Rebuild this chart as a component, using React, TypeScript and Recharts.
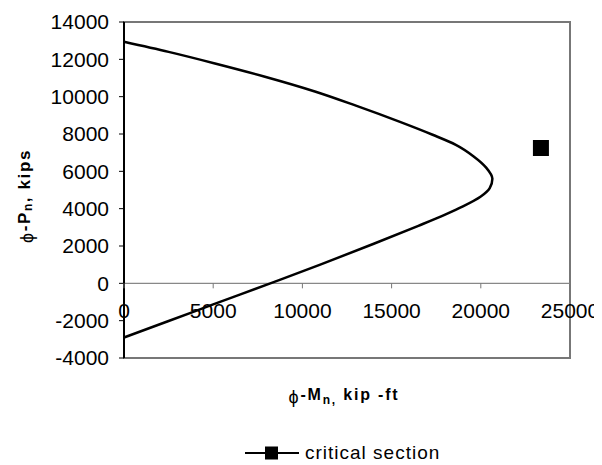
import {
  Legend,
  ReferenceArea,
  ReferenceLine,
  Scatter,
  ScatterChart,
  XAxis,
  YAxis,
} from "recharts";

// interaction diagram, phi-Mn (kip-ft) vs phi-Pn (kips), traced from top to bottom
const momentValues = [
  0, 2500, 5100, 7900, 10700, 13000, 15470, 17300, 18600, 19600, 20300, 20650, 20500,
  20000, 19000, 18000, 16500, 14000, 11000, 8200, 5000, 2500, 0,
];
const axialValues = [
  12940, 12400, 11780, 11070, 10280, 9520, 8650, 7960, 7420, 6800, 6200, 5600, 5100,
  4650, 4120, 3680, 3080, 2120, 1000, 0, -1130, -2020, -2900,
];

const criticalMoment = [23370];
const criticalAxial = [7250];

const xTicks = [0, 5000, 10000, 15000, 20000, 25000];
const yTicks = [-4000, -2000, 0, 2000, 4000, 6000, 8000, 10000, 12000, 14000];

const X_MIN = 0;
const X_MAX = 25000;
const Y_MIN = -4000;
const Y_MAX = 14000;

const CHART_W = 594;
const CHART_H = 457;
const MARGIN = { top: 14, right: 32, left: 0, bottom: 33 };
const X_AXIS_H = 50;
const LEGEND_H = 24;
const PLOT_H = CHART_H - MARGIN.top - MARGIN.bottom - X_AXIS_H - LEGEND_H;

const FONT = '"Liberation Sans", Arial, sans-serif';

const curveData = momentValues.map((m, i) => ({ m, p: axialValues[i] }));
const criticalData = criticalMoment.map((m, i) => ({ m, p: criticalAxial[i] }));

// x tick labels sit on the P = 0 line, not at the bottom of the plot
const zeroShift = (PLOT_H * (0 - Y_MIN)) / (Y_MAX - Y_MIN);

function XTick(props: any) {
  const { x, y, payload } = props;
  return (
    <g transform={`translate(${x},${y - zeroShift})`}>
      <line y1={0} y2={5} stroke="#777" strokeWidth={1} />
      <text y={35} textAnchor="middle" fontSize={21} fontFamily={FONT} fill="#000">
        {payload.value}
      </text>
    </g>
  );
}

function SquareShape(props: any) {
  const { cx, cy } = props;
  return <rect x={cx - 8} y={cy - 8} width={16} height={16} fill="#000" />;
}

function NoShape() {
  return <g />;
}

function XTitle(props: any) {
  const { viewBox } = props;
  const cx = viewBox.x + viewBox.width / 2 - 3;
  return (
    <text x={cx} y={viewBox.y + 42} textAnchor="middle" fontFamily={FONT} fontSize={16} fill="#000" letterSpacing={1.8}>
      <tspan fontWeight="normal" fontSize={18} dy={3}>ϕ</tspan>
      <tspan fontWeight="bold" dy={-3}>-M</tspan>
      <tspan fontWeight="bold" fontSize={12} dy={4}>n,</tspan>
      <tspan fontWeight="bold" dy={-4}> kip -ft</tspan>
    </text>
  );
}

function YTitle(props: any) {
  const { viewBox } = props;
  const cx = 16;
  const cy = viewBox.y + viewBox.height / 2 + 6;
  return (
    <text
      x={cx}
      y={cy}
      transform={`rotate(-90, ${cx}, ${cy})`}
      textAnchor="middle"
      dominantBaseline="central"
      fontFamily={FONT}
      fontSize={17}
      fill="#000"
      letterSpacing={1.6}
    >
      <tspan fontSize={18} dy={3}>ϕ</tspan>
      <tspan fontWeight="bold" dy={-3}>-P</tspan>
      <tspan fontWeight="bold" fontSize={12} dy={4}>n</tspan>
      <tspan fontWeight="bold" dy={-4}>, kips</tspan>
    </text>
  );
}

function LegendContent() {
  return (
    <div style={{ display: "flex", alignItems: "center", height: LEGEND_H, fontFamily: FONT }}>
      <svg width={54} height={16}>
        <line x1={0} y1={8} x2={54} y2={8} stroke="#000" strokeWidth={2} />
        <rect x={20} y={1.5} width={13} height={13} fill="#000" />
      </svg>
      <span style={{ fontSize: 19, marginLeft: 6, color: "#000", letterSpacing: 1 }}>critical section</span>
    </div>
  );
}

export default function App() {
  return (
    <div style={{ width: CHART_W, height: CHART_H }}>
      <ScatterChart width={CHART_W} height={CHART_H} margin={MARGIN}>
        <ReferenceArea
          x1={X_MIN}
          x2={X_MAX}
          y1={Y_MIN}
          y2={Y_MAX}
          fill="none"
          stroke="#777"
          strokeWidth={2}
          fillOpacity={0}
          ifOverflow="extendDomain"
        />
        <ReferenceLine y={0} stroke="#888" strokeWidth={1.2} />
        <XAxis
          type="number"
          dataKey="m"
          domain={[X_MIN, X_MAX]}
          ticks={xTicks}
          height={X_AXIS_H}
          axisLine={{ stroke: "#777", strokeWidth: 2 }}
          tickLine={false}
          tickSize={0}
          tickMargin={0}
          tick={<XTick />}
          interval={0}
          label={<XTitle />}
        />
        <YAxis
          type="number"
          dataKey="p"
          domain={[Y_MIN, Y_MAX]}
          ticks={yTicks}
          width={116}
          axisLine={{ stroke: "#000", strokeWidth: 2 }}
          tickLine={{ stroke: "#000" }}
          tickSize={5}
          tickMargin={10}
          interval={0}
          tick={{ fontSize: 21, fill: "#000", fontFamily: FONT }}
          label={<YTitle />}
        />
        <Legend
          verticalAlign="bottom"
          height={LEGEND_H}
          content={<LegendContent />}
          wrapperStyle={{ bottom: 0, left: 237, width: "auto" }}
        />
        <Scatter
          name="interaction"
          data={curveData}
          line={{ stroke: "#000", strokeWidth: 2.5 }}
          lineJointType="monotoneY"
          shape={<NoShape />}
          legendType="none"
          isAnimationActive={false}
        />
        <Scatter
          name="critical section"
          data={criticalData}
          shape={<SquareShape />}
          fill="#000"
          isAnimationActive={false}
        />
      </ScatterChart>
    </div>
  );
}
